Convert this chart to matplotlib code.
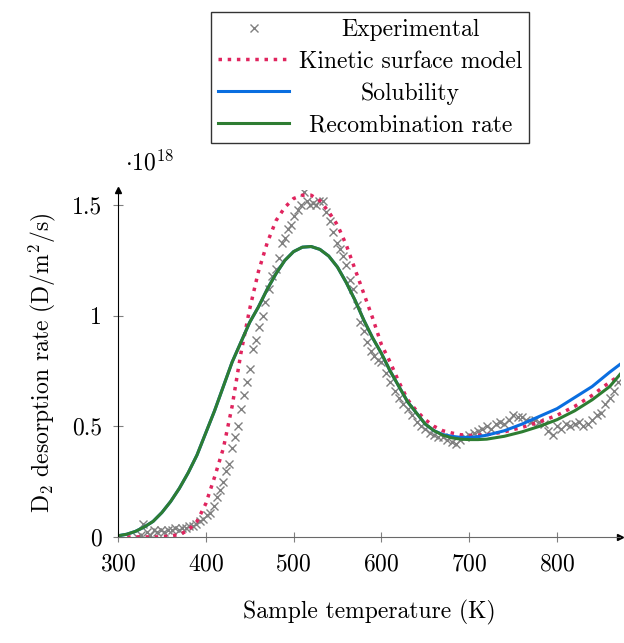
import numpy as np
import matplotlib
matplotlib.use("Agg")
import matplotlib.pyplot as plt

plt.rcParams['font.family'] = 'serif'
plt.rcParams['font.serif'] = ['cmr10']
plt.rcParams['mathtext.fontset'] = 'cm'
plt.rcParams['axes.formatter.use_mathtext'] = True

# experimental data (units of 1e18)
exp_T = [322, 326, 329, 333, 337, 341, 345, 349, 353, 357, 361, 365, 369, 373, 377, 381,
         385, 389, 393, 397, 401, 405, 409, 413, 416, 420, 423, 427, 430, 433, 437, 440,
         443, 447, 450, 454, 457, 461, 465, 468, 472, 476, 480, 483, 487, 490, 494, 497,
         501, 505, 508, 512, 515, 519, 522, 526, 529, 533, 537, 541, 545, 549, 553, 556,
         560, 564, 568, 572, 576, 580, 584, 588, 592, 596, 600, 605, 610, 615, 620, 625,
         630, 635, 640, 645, 650, 655, 660, 665, 670, 675, 680, 685, 690, 695, 700, 705,
         710, 715, 720, 725, 730, 735, 740, 745, 750, 755, 760, 765, 770, 775, 780, 785,
         790, 795, 800, 805, 810, 815, 820, 825, 830, 835, 840, 845, 850, 855, 860, 865, 870]
exp_D = [0.00, 0.01, 0.06, 0.02, 0.01, 0.03, 0.02, 0.03, 0.02, 0.03, 0.03, 0.04, 0.03, 0.04,
         0.04, 0.05, 0.05, 0.06, 0.07, 0.08, 0.10, 0.11, 0.14, 0.18, 0.21, 0.25, 0.30, 0.33,
         0.40, 0.45, 0.50, 0.58, 0.64, 0.70, 0.76, 0.85, 0.89, 0.95, 1.00, 1.06, 1.12, 1.18,
         1.21, 1.26, 1.33, 1.35, 1.39, 1.41, 1.45, 1.48, 1.50, 1.56, 1.52, 1.50, 1.51, 1.50,
         1.52, 1.52, 1.47, 1.43, 1.38, 1.33, 1.30, 1.27, 1.23, 1.16, 1.12, 1.05, 0.97, 0.93,
         0.88, 0.84, 0.82, 0.80, 0.79, 0.74, 0.70, 0.66, 0.63, 0.60, 0.58, 0.55, 0.52, 0.50,
         0.49, 0.47, 0.46, 0.45, 0.45, 0.44, 0.43, 0.42, 0.44, 0.45, 0.46, 0.47, 0.48, 0.49,
         0.50, 0.49, 0.51, 0.52, 0.51, 0.53, 0.55, 0.54, 0.54, 0.53, 0.52, 0.53, 0.52, 0.51,
         0.48, 0.46, 0.50, 0.49, 0.51, 0.50, 0.51, 0.52, 0.50, 0.51, 0.53, 0.55, 0.56, 0.60,
         0.63, 0.66, 0.70]

mod_T = [300, 310, 320, 330, 340, 350, 360, 370, 380, 390, 400, 410, 420, 430, 440, 450,
         460, 470, 480, 490, 500, 510, 520, 530, 540, 550, 560, 570, 580, 590, 600, 610,
         620, 630, 640, 650, 660, 670, 680, 690, 700, 710, 720, 740, 760, 780, 800, 820,
         840, 860, 875]
kinetic = [0.0, 0.0, 0.0, 0.0, 0.0, 0.0, 0.005, 0.01, 0.03, 0.07, 0.15, 0.27, 0.40, 0.59,
           0.83, 1.03, 1.20, 1.33, 1.43, 1.49, 1.53, 1.545, 1.545, 1.52, 1.47, 1.41, 1.32,
           1.21, 1.10, 0.99, 0.87, 0.79, 0.70, 0.62, 0.57, 0.53, 0.50, 0.48, 0.47, 0.462,
           0.458, 0.46, 0.462, 0.475, 0.495, 0.52, 0.55, 0.59, 0.64, 0.70, 0.74]
recomb = [0.005, 0.012, 0.025, 0.045, 0.07, 0.11, 0.16, 0.22, 0.29, 0.37, 0.47, 0.57, 0.68,
          0.79, 0.88, 0.97, 1.04, 1.12, 1.19, 1.25, 1.29, 1.31, 1.313, 1.30, 1.27, 1.22,
          1.15, 1.07, 0.98, 0.90, 0.83, 0.75, 0.68, 0.61, 0.56, 0.51, 0.48, 0.46, 0.448,
          0.442, 0.44, 0.44, 0.442, 0.455, 0.475, 0.50, 0.53, 0.57, 0.62, 0.68, 0.75]
solub = [0.005, 0.012, 0.025, 0.045, 0.07, 0.11, 0.16, 0.22, 0.29, 0.37, 0.47, 0.57, 0.68,
         0.79, 0.88, 0.97, 1.04, 1.12, 1.19, 1.25, 1.29, 1.31, 1.313, 1.30, 1.27, 1.22,
         1.15, 1.07, 0.98, 0.90, 0.83, 0.75, 0.68, 0.61, 0.56, 0.51, 0.48, 0.463, 0.455,
         0.45, 0.45, 0.453, 0.46, 0.48, 0.51, 0.545, 0.58, 0.63, 0.68, 0.745, 0.79]

fig = plt.figure(figsize=(6.24, 6.43), dpi=100)
ax = fig.add_axes([0.189, 0.165, 0.805, 0.54])

ax.plot(exp_T, np.array(exp_D) * 1e18, 'x', color='gray', ms=6, mew=1.0, label='Experimental')
ax.plot(mod_T, np.array(kinetic) * 1e18, ':', color='#e0245e', lw=2.5, label='Kinetic surface model')
ax.plot(mod_T, np.array(solub) * 1e18, '-', color='#0a6ee0', lw=2.2, label='Solubility')
ax.plot(mod_T, np.array(recomb) * 1e18, '-', color='#2e7d32', lw=2.2, label='Recombination rate')

ax.set_xlim(300, 872)
ax.set_ylim(0, 1.57e18)
ax.set_xticks([300, 400, 500, 600, 700, 800])
ax.set_yticks([0, 0.5e18, 1e18, 1.5e18])
ax.set_yticklabels(['0', '0.5', '1', '1.5'])
ax.text(0.015, 1.04, r'$\cdot 10^{18}$', transform=ax.transAxes, fontsize=17, va='bottom')
ax.tick_params(labelsize=17, direction='inout', length=7, color='gray', pad=8)
for s in ['top', 'right']:
    ax.spines[s].set_visible(False)
ax.spines['bottom'].set_color('dimgray')
ax.plot(1, 0, '>k', transform=ax.transAxes, clip_on=False, ms=5)
ax.plot(0, 1.0, '^k', transform=ax.transAxes, clip_on=False, ms=5)
ax.set_xlabel('Sample temperature (K)', fontsize=17, labelpad=18)
ax.set_ylabel(r'D$_2$ desorption rate (D/m$^2$/s)', fontsize=17, labelpad=10)

leg = fig.legend(loc='upper center', bbox_to_anchor=(0.593, 1.0), fontsize=17,
                 frameon=True, fancybox=False, edgecolor='black', handlelength=3,
                 borderpad=0.3, labelspacing=0.4, handletextpad=0.4)
leg.get_frame().set_linewidth(1.0)

# centre the legend labels within their column
fig.canvas.draw()
r = fig.canvas.get_renderer()
widths = [t.get_window_extent(r).width for t in leg.get_texts()]
for t, w in zip(leg.get_texts(), widths):
    t.set_x((max(widths) - w) / 2)

fig.savefig('out.png', dpi=100)
